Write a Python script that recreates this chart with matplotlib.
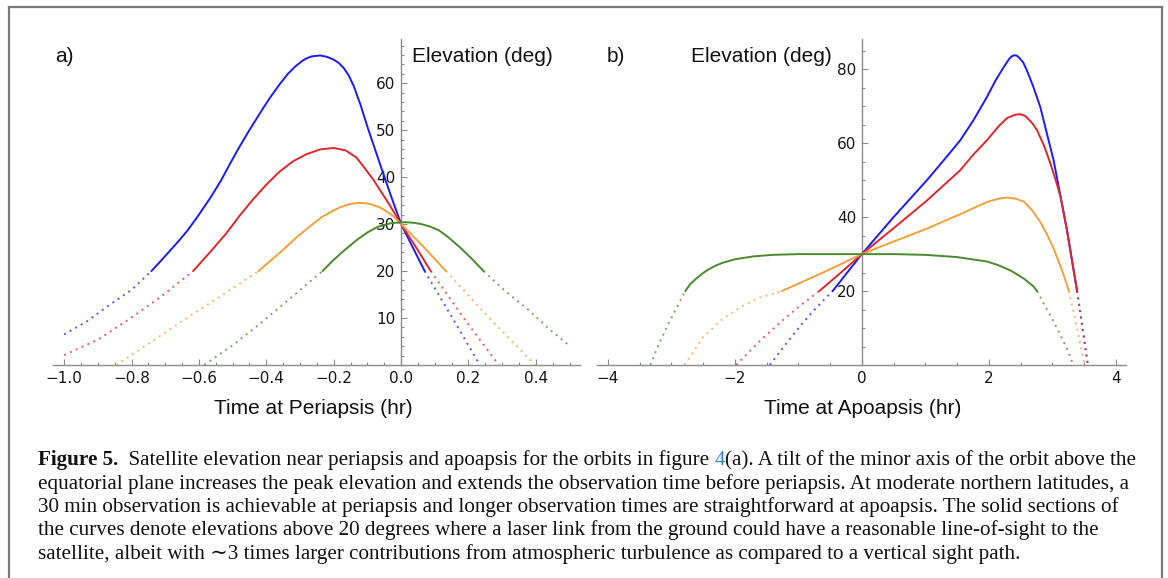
import numpy as np
import matplotlib
matplotlib.use("Agg")
import matplotlib.pyplot as plt
from matplotlib.lines import Line2D
from matplotlib.ticker import MultipleLocator

W, H = 1168, 578

# ---- values (time in hr, elevation in deg) ----
# a) near periapsis
peri_blue_t = [-1.0, -0.93, -0.873, -0.80, -0.741, -0.71, -0.66, -0.633, -0.60, -0.565,
               -0.535, -0.508, -0.48, -0.451, -0.41, -0.388, -0.36, -0.337, -0.315, -0.292,
               -0.28, -0.265, -0.24, -0.22, -0.20, -0.185, -0.17, -0.155, -0.14, -0.12,
               -0.098, -0.064, -0.030, 0.0, 0.035, 0.07, 0.15, 0.234]
peri_blue_el = [6.5, 9.4, 12.4, 16.0, 20.0, 22.4, 26.4, 28.7, 32.0, 35.7,
                39.2, 42.8, 46.4, 49.9, 54.6, 57.0, 59.8, 61.9, 63.5, 64.8,
                65.3, 65.7, 65.9, 65.6, 65.0, 64.3, 63.2, 61.6, 59.3, 55.3,
                50.3, 43.1, 36.0, 30.0, 25.0, 20.0, 10.3, 0.0]

peri_red_t = [-1.0, -0.9, -0.81, -0.71, -0.617, -0.561, -0.519, -0.48, -0.44, -0.40,
              -0.36, -0.32, -0.28, -0.24, -0.2, -0.165, -0.133, -0.11, -0.081, -0.036,
              0.0, 0.045, 0.088, 0.19, 0.29]
peri_red_el = [2.1, 5.4, 9.6, 14.7, 20.0, 24.5, 28.0, 31.7, 35.2, 38.4,
               41.2, 43.4, 44.9, 45.9, 46.2, 45.7, 44.2, 42.1, 39.3, 34.3,
               30.0, 25.0, 20.0, 9.6, 0.0]

peri_orange_t = [-0.846, -0.75, -0.64, -0.53, -0.423, -0.349, -0.31, -0.269, -0.235, -0.201,
                 -0.18, -0.16, -0.14, -0.121, -0.10, -0.085, -0.064, -0.045, -0.025, 0.0,
                 0.065, 0.133, 0.27, 0.398]
peri_orange_el = [0.0, 4.5, 9.8, 14.9, 20.0, 24.6, 27.2, 29.6, 31.5, 32.9,
                  33.6, 34.1, 34.4, 34.5, 34.4, 34.1, 33.6, 32.8, 31.8, 30.0,
                  25.3, 20.0, 9.4, 0.0]

peri_green_t = [-0.584, -0.50, -0.42, -0.329, -0.233, -0.2, -0.167, -0.13, -0.098, -0.07,
                -0.03, 0.01, 0.035, 0.06, 0.085, 0.112, 0.14, 0.174, 0.21, 0.245,
                0.31, 0.379, 0.44, 0.50]
peri_green_el = [0.0, 4.2, 8.7, 14.2, 20.0, 22.4, 24.5, 26.7, 28.3, 29.4,
                 30.2, 30.4, 30.3, 30.0, 29.5, 28.7, 27.2, 25.1, 22.6, 20.0,
                 15.7, 11.7, 7.6, 4.1]

# b) near apoapsis
apo_blue_t = [-1.45, -1.2, -0.95, -0.7, -0.46, -0.23, 0.0, 0.5, 1.025, 1.3,
              1.55, 1.75, 1.97, 2.1, 2.235, 2.32, 2.36, 2.40, 2.44, 2.48,
              2.54, 2.60, 2.70, 2.81, 2.9, 3.02, 3.13, 3.23, 3.3, 3.39, 3.56]
apo_blue_el = [0.0, 5.6, 11.0, 15.8, 20.0, 25.0, 30.0, 40.0, 50.0, 55.6,
               60.8, 66.0, 72.5, 76.8, 80.6, 82.8, 83.5, 83.8, 83.7, 83.1,
               81.9, 79.7, 75.3, 69.8, 63.6, 55.4, 45.5, 36.5, 29.3, 20.0, 0.0]

apo_red_t = [-1.98, -1.6, -1.2, -0.9, -0.67, -0.33, 0.0, 0.5, 1.025, 1.55,
             1.75, 1.97, 2.15, 2.287, 2.40, 2.45, 2.51, 2.57, 2.62, 2.69,
             2.76, 2.87, 2.97, 3.05, 3.13, 3.23, 3.3, 3.39, 3.56]
apo_red_el = [0.0, 6.6, 12.8, 17.0, 20.0, 25.0, 30.0, 37.0, 44.5, 52.7,
              56.8, 60.8, 64.5, 66.8, 67.6, 67.8, 67.8, 67.4, 66.6, 65.3,
              63.5, 59.3, 54.5, 50.2, 45.5, 36.5, 29.3, 20.0, 0.0]

apo_orange_t = [-2.79, -2.5, -2.2, -1.9, -1.6, -1.26, -0.6, 0.0, 0.5, 1.025,
                1.55, 1.97, 2.15, 2.30, 2.42, 2.55, 2.68, 2.81, 2.92, 3.02,
                3.1, 3.18, 3.26, 3.385, 3.51]
apo_orange_el = [0.0, 7.5, 12.3, 15.8, 18.3, 20.0, 25.1, 30.0, 33.4, 36.9,
                 40.8, 44.1, 45.0, 45.3, 45.0, 44.2, 41.9, 38.7, 35.2, 31.5,
                 28.0, 24.3, 20.0, 10.3, 0.0]

apo_green_t = [-3.33, -3.2, -3.05, -2.9, -2.78, -2.7, -2.6, -2.5, -2.4, -2.3,
               -2.2, -2.0, -1.7, -1.4, -1.0, -0.5, 0.0, 0.5, 1.0, 1.5,
               1.97, 2.15, 2.35, 2.55, 2.7, 2.76, 2.9, 3.02, 3.12, 3.23, 3.33]
apo_green_el = [0.0, 5.5, 11.0, 16.0, 20.0, 21.9, 23.5, 24.9, 26.0, 26.9,
                27.6, 28.6, 29.4, 29.8, 30.0, 30.0, 30.0, 30.0, 29.8, 29.2,
                28.0, 27.0, 25.5, 23.4, 21.3, 20.0, 15.5, 11.8, 8.3, 4.5, 0.0]

peri_xticks = [-1.0, -0.8, -0.6, -0.4, -0.2, 0.0, 0.2, 0.4]
peri_xlabels = ["\u22121.0", "\u22120.8", "\u22120.6", "\u22120.4", "\u22120.2", "0.0", "0.2", "0.4"]
peri_yticks = [10, 20, 30, 40, 50, 60]
apo_xticks = [-4, -2, 0, 2, 4]
apo_xlabels = ["\u22124", "\u22122", "0", "2", "4"]
apo_yticks = [20, 40, 60, 80]

BLUE, RED, ORANGE, GREEN = "#1a1aff", "#e0262b", "#f2a03c", "#4b8a2c"
AXIS_GREY = "#8c8c8c"


def px_box(left, top, right, bottom):
    return [left / W, 1 - bottom / H, (right - left) / W, (bottom - top) / H]


def draw_curve(ax, t, el, color, cut=20):
    t = np.asarray(t, float)
    el = np.asarray(el, float)
    ax.plot(t, np.where(el >= cut, el, np.nan), color=color, lw=1.4,
            solid_capstyle="round", solid_joinstyle="round", zorder=3)
    ax.plot(t, np.where(el <= cut, el, np.nan), color=color, lw=1.4,
            ls=(0, (1.0, 2.3)), alpha=0.75, zorder=3)


def setup_axis(ax, xlim, ylim, xticks, xlabels, xminor, yticks, yminor):
    ax.set_xlim(*xlim)
    ax.set_ylim(*ylim)
    ax.patch.set_visible(False)
    for s in ("top", "right"):
        ax.spines[s].set_visible(False)
    ax.spines["left"].set_position(("data", 0))
    for s in ("left", "bottom"):
        ax.spines[s].set_color(AXIS_GREY)
        ax.spines[s].set_linewidth(1.0)
    ax.set_xticks(xticks)
    ax.set_xticklabels(xlabels)
    ax.xaxis.set_minor_locator(MultipleLocator(xminor))
    ax.set_yticks(yticks)
    ax.yaxis.set_minor_locator(MultipleLocator(yminor))
    ax.tick_params(which="both", direction="in", color=AXIS_GREY, width=0.8)
    ax.tick_params(which="major", length=4, labelsize=11, labelcolor="#161616", pad=4)
    ax.tick_params(which="minor", length=2.2)
    for lab in ax.get_xticklabels() + ax.get_yticklabels():
        lab.set_family("DejaVu Sans")


fig = plt.figure(figsize=(W / 100, H / 100), dpi=100)

# panel a
axa = fig.add_axes(px_box(53, 39, 580, 365))
setup_axis(axa, (-1.033, 0.531), (0, 69.4), peri_xticks, peri_xlabels, 0.05, peri_yticks, 2)
for t, el, c in [(peri_blue_t, peri_blue_el, BLUE), (peri_red_t, peri_red_el, RED),
                 (peri_orange_t, peri_orange_el, ORANGE), (peri_green_t, peri_green_el, GREEN)]:
    draw_curve(axa, t, el, c)

# panel b
axb = fig.add_axes(px_box(597, 39, 1126, 365))
setup_axis(axb, (-4.17, 4.16), (0, 88.2), apo_xticks, apo_xlabels, 0.5, apo_yticks, 5)
for t, el, c in [(apo_blue_t, apo_blue_el, BLUE), (apo_red_t, apo_red_el, RED),
                 (apo_orange_t, apo_orange_el, ORANGE), (apo_green_t, apo_green_el, GREEN)]:
    draw_curve(axb, t, el, c)

lab_kw = dict(family="Liberation Sans", fontsize=15, color="#111111", va="center")
fig.text(55 / W, 1 - 57 / H, "a)", **lab_kw)
fig.text(412 / W, 1 - 57 / H, "Elevation (deg)", **lab_kw)
fig.text(313 / W, 1 - 408 / H, "Time at Periapsis (hr)", ha="center", **lab_kw)
fig.text(607 / W, 1 - 57 / H, "b)", **lab_kw)
fig.text(691 / W, 1 - 57 / H, "Elevation (deg)", **lab_kw)
fig.text(863 / W, 1 - 408 / H, "Time at Apoapsis (hr)", ha="center", **lab_kw)

# frame around the figure
for xs, ys in [((9, 1162), (7, 7)), ((9, 9), (7, H)), ((1162, 1162), (7, H))]:
    fig.add_artist(Line2D([x / W for x in xs], [1 - y / H for y in ys],
                          color="#7a7a7a", lw=1.6))

# caption
cap_kw = dict(family=["Liberation Serif", "DejaVu Serif"], fontsize=15.2, color="#111111")
caption_lines = [
    [("Figure 5.", {"weight": "bold"}),
     ("  Satellite elevation near periapsis and apoapsis for the orbits in figure ", {}),
     ("4", {"color": "#2a86c8"}),
     ("(a). A tilt of the minor axis of the orbit above the", {})],
    [("equatorial plane increases the peak elevation and extends the observation time "
      "before periapsis. At moderate northern latitudes, a", {})],
    [("30 min observation is achievable at periapsis and longer observation times are "
      "straightforward at apoapsis. The solid sections of", {})],
    [("the curves denote elevations above 20 degrees where a laser link from the ground "
      "could have a reasonable line-of-sight to the", {})],
    [("satellite, albeit with \u223c3 times larger contributions from atmospheric "
      "turbulence as compared to a vertical sight path.", {})],
]
baselines = [465, 488.5, 512, 535.5, 559]
for pieces, yb in zip(caption_lines, baselines):
    text, kw = pieces[0]
    t = fig.text(38 / W, 1 - yb / H, text, va="baseline", **{**cap_kw, **kw})
    for text, kw in pieces[1:]:
        t = axa.annotate(text, xy=(1, 0), xycoords=t, va="bottom",
                         annotation_clip=False, **{**cap_kw, **kw})

fig.savefig("out.png", dpi=100)
